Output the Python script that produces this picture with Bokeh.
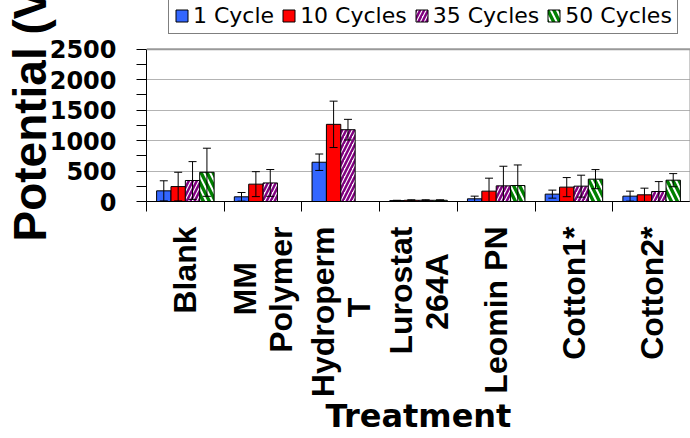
import numpy as np
from bokeh.plotting import figure
from bokeh.models import (ColumnDataSource, Whisker, TeeHead, Legend, LegendItem,
                          FixedTicker, Range1d, LinearAxis, Span)
from bokeh.embed import file_html
from bokeh.resources import INLINE

# ---------------- data ----------------
NB = "\u00a0"
treatments = ["Blank", "MM" + NB * 4 + "\nPolymer", "Hydroperm\nT" + NB * 8,
              "Lurostat\n264A" + NB * 3, "Leomin PN", "Cotton1*", "Cotton2*"]
series_names = ["1 Cycle", "10 Cycles", "35 Cycles", "50 Cycles"]

cycle1 = [175, 77, 645, 15, 44, 121, 88]
cycle10 = [245, 285, 1267, 20, 170, 236, 110]
cycle35 = [345, 305, 1179, 20, 257, 252, 164]
cycle50 = [480, 0, 0, 20, 262, 367, 350]

err1 = [165, 71, 135, 5, 44, 66, 82]
err10 = [235, 205, 381, 8, 213, 157, 109]
err35 = [310, 220, 170, 8, 322, 180, 163]
err50 = [395, 0, 0, 8, 338, 157, 108]

y_ticks = [0, 500, 1000, 1500, 2000, 2500]
y_minor = [250, 750, 1250, 1750, 2250]
y_max = 2500

values = [cycle1, cycle10, cycle35, cycle50]
errors = [err1, err10, err35, err50]

# ---------------- layout / styles ----------------
FRAME_H = 202                       # plot frame incl. legend strip
DATA_H = 153                        # pixel height of 0..2500
y_top = y_max * FRAME_H / DATA_H    # leaves room for the legend above 2500

bar_w = 0.185
offsets = [-1.5 * bar_w, -0.5 * bar_w, 0.5 * bar_w, 1.5 * bar_w]
styles = [
    dict(fill_color="#3366FF"),
    dict(fill_color="#FF0000"),
    dict(fill_color="white", hatch_pattern="/", hatch_color="#800080",
         hatch_scale=8, hatch_weight=2.5),
    dict(fill_color="#008000", hatch_pattern="\\", hatch_color="white",
         hatch_scale=12, hatch_weight=2),
]

p = figure(width=690, height=438, output_backend="svg",
           toolbar_location=None,
           x_range=Range1d(0, len(treatments)), y_range=Range1d(0, y_top),
           min_border_left=0, min_border_right=0, min_border_top=0,
           min_border_bottom=0)

# frame / grid
p.outline_line_color = None
p.xgrid.visible = False
p.ygrid.grid_line_color = "#B3B3B3"
p.ygrid.grid_line_width = 1
p.add_layout(Span(location=y_max, dimension="width", line_color="#999999",
                  line_width=2))

n = len(treatments)
centers = np.arange(n) + 0.5
items = []
for j in range(4):
    v = np.array(values[j], dtype=float)
    e = np.array(errors[j], dtype=float)
    src = ColumnDataSource(dict(x=centers + offsets[j], top=v,
                                upper=v + e, lower=v - e))
    r = p.vbar(x="x", top="top", bottom=0, width=bar_w, source=src,
               line_color="black", line_width=1, **styles[j])
    items.append(LegendItem(label=series_names[j], renderers=[r]))
    w = Whisker(source=src, base="x", upper="upper", lower="lower",
                line_color="black", line_width=1, level="overlay",
                upper_head=TeeHead(size=8, line_color="black", line_width=1),
                lower_head=TeeHead(size=8, line_color="black", line_width=1))
    p.add_layout(w)

# legend (inside the frame strip above 2500)
legend = Legend(items=items, orientation="horizontal", location=(22, 167),
                label_text_font="DejaVu Sans", label_text_font_size="22px",
                label_text_color="black",
                glyph_width=15, glyph_height=15, label_standoff=4, spacing=7,
                padding=5, margin=0, border_line_color="black",
                border_line_width=1, background_fill_color="white",
                label_height=20)
p.add_layout(legend)

# right border of the plot area
rax = LinearAxis(ticker=FixedTicker(ticks=[]), bounds=(0, y_max),
                 axis_line_color="#999999", axis_line_width=2,
                 major_label_text_font_size="0px", major_tick_out=0,
                 minor_tick_out=0, major_label_standoff=0)
p.add_layout(rax, "right")

# y axis
yax = p.yaxis[0]
yax.bounds = (0, y_max)
yax.ticker = FixedTicker(ticks=y_ticks, minor_ticks=y_minor)
yax.axis_label = "Potential (V)" + NB
yax.axis_label_text_font = "Liberation Sans"
yax.axis_label_text_font_style = "bold"
yax.axis_label_text_font_size = "46px"
yax.axis_label_text_color = "black"
yax.axis_label_standoff = -9
yax.major_label_text_font = "DejaVu Sans"
yax.major_label_text_font_style = "bold"
yax.major_label_text_font_size = "24px"
yax.major_label_text_color = "black"
yax.major_label_standoff = 20
yax.major_tick_out = 10
yax.major_tick_in = 0
yax.minor_tick_out = 10
yax.minor_tick_in = 0
yax.axis_line_color = "black"
yax.major_tick_line_color = "black"
yax.minor_tick_line_color = "black"

# x axis
p.xaxis.ticker = FixedTicker(ticks=list(centers), minor_ticks=list(range(n + 1)))
p.xaxis.major_label_overrides = {float(c): t for c, t in zip(centers, treatments)}
p.xaxis.major_label_orientation = np.pi / 2
p.xaxis.major_label_text_font = "Liberation Sans"
p.xaxis.major_label_text_font_style = "bold"
p.xaxis.major_label_text_font_size = "32px"
p.xaxis.major_label_text_line_height = 1.0
p.xaxis.major_label_text_color = "black"
p.xaxis.major_tick_out = 0
p.xaxis.major_tick_in = 0
p.xaxis.minor_tick_out = 10
p.xaxis.minor_tick_in = 0
p.xaxis.major_label_standoff = 15
p.xaxis.axis_label = "Treatment"
p.xaxis.axis_label_text_font = "DejaVu Sans"
p.xaxis.axis_label_text_font_style = "bold"
p.xaxis.axis_label_text_font_size = "32px"
p.xaxis.axis_label_text_color = "black"
p.xaxis.axis_label_standoff = -3
p.xaxis.axis_line_color = "black"
p.xaxis.minor_tick_line_color = "black"

open("out.html", "w").write(file_html(p, INLINE))
